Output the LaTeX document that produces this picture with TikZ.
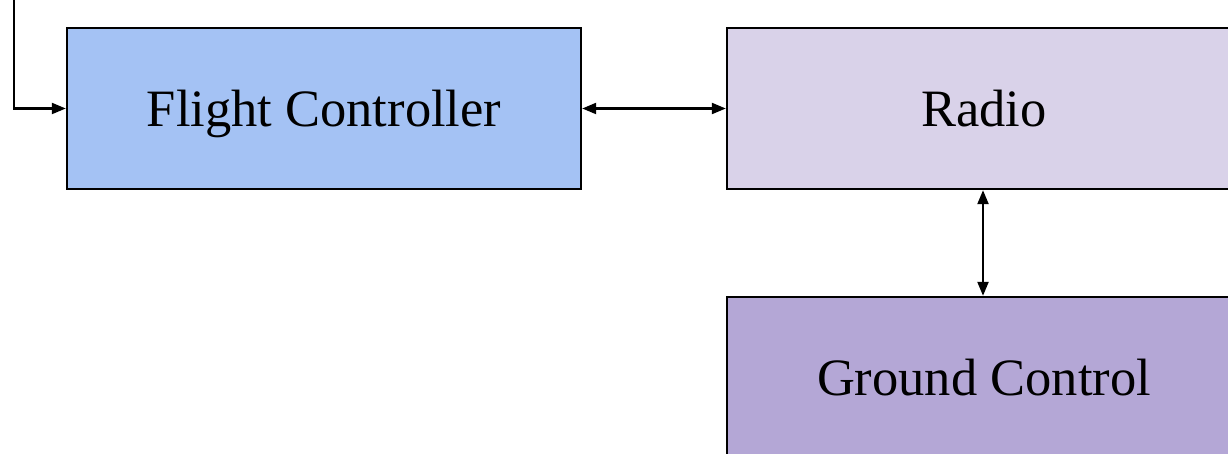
\documentclass[tikz,border=0pt]{standalone}
\usepackage{fontspec}
\setmainfont{Liberation Serif}
\usetikzlibrary{arrows.meta}
\definecolor{fcblue}{HTML}{A4C2F4}
\definecolor{radiolilac}{HTML}{D9D2E9}
\definecolor{gcpurple}{HTML}{B4A7D6}
\tikzset{
  block/.style={draw=black, line width=2.4pt, minimum width=514pt, minimum height=161pt,
    inner sep=0pt, text height=40pt, text depth=3pt, font=\fontsize{52.5}{60}\selectfont},
  link/.style={line width=2.2pt, -{Triangle[length=14pt,width=11pt]}},
  duplex/.style={line width=2.2pt, {Triangle[length=14pt,width=11pt]}-{Triangle[length=14pt,width=11pt]}}
}
\begin{document}
\begin{tikzpicture}[x=1pt,y=-1pt]
  \useasboundingbox (0,0) rectangle (1228,454);
  \clip (0,0) rectangle (1228,454);
  % system blocks
  \node[block, fill=fcblue] (fc) at (324,108.5) {Flight Controller};
  \node[block, fill=radiolilac] (radio) at (984,108.5) {Radio};
  \node[block, fill=gcpurple, text height=38pt] (gc) at (984,377.5) {Ground Control};
  % incoming line from above
  \coordinate (feed) at (14,-5);
  \draw[link] (feed) |- (fc.west);
  % data links
  \draw[duplex] (fc.east) -- (radio.west);
  \draw[duplex] (radio.south -| 983,0) -- (gc.north -| 983,0);
\end{tikzpicture}
\end{document}
